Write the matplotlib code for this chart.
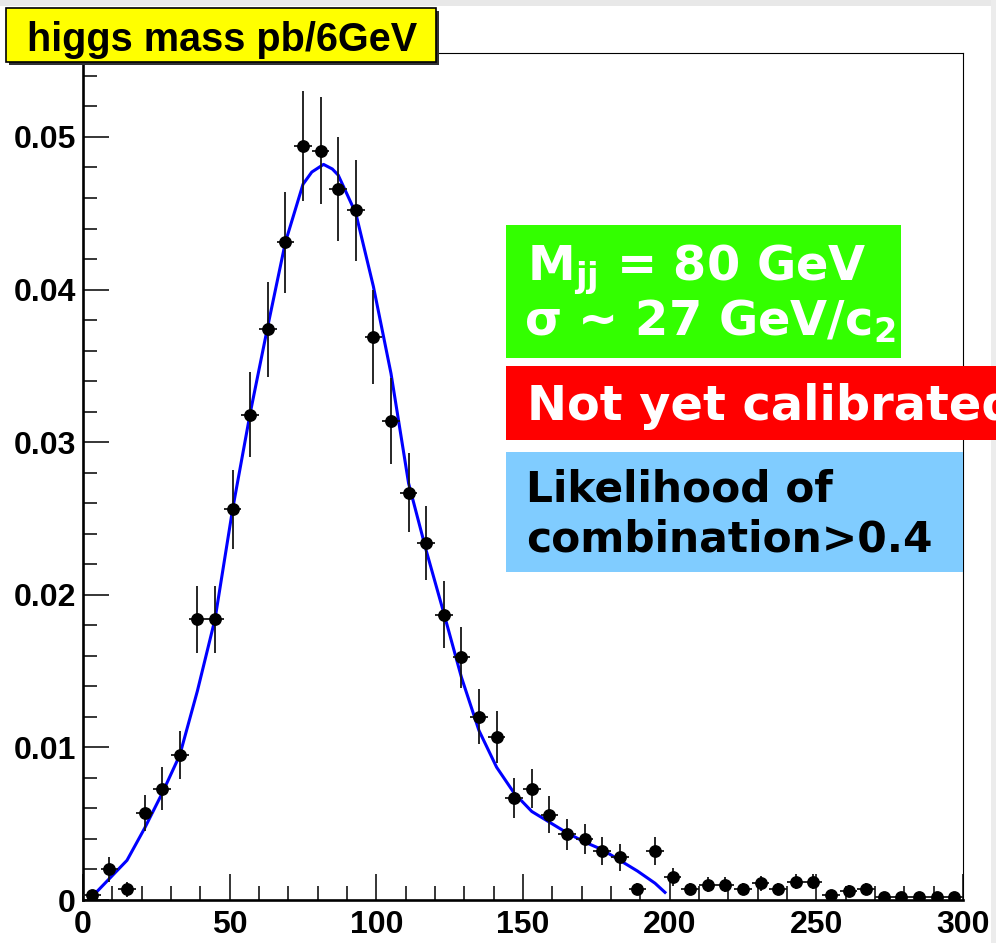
import numpy as np
import matplotlib
matplotlib.use("Agg")
import matplotlib.pyplot as plt
from matplotlib.patches import Rectangle
from matplotlib.ticker import MultipleLocator, FuncFormatter

plt.rcParams['mathtext.fontset'] = 'dejavusans'

# ---------------- data ----------------
bin_width = 6
mass = np.arange(3, 300, bin_width)  # bin centres, 0..300 in 6 GeV bins
xsec = [0.0003, 0.0020, 0.0007, 0.0057, 0.0073, 0.0095, 0.0184, 0.0184, 0.0256, 0.0318,
        0.0374, 0.0431, 0.0494, 0.0491, 0.0466, 0.0452, 0.0369, 0.0314, 0.0267, 0.0234,
        0.0187, 0.0159, 0.0120, 0.0107, 0.0067, 0.0073, 0.0056, 0.0043, 0.0040, 0.0032,
        0.0028, 0.0007, 0.0032, 0.0015, 0.0007, 0.0010, 0.0010, 0.0007, 0.0011, 0.0007,
        0.0012, 0.0012, 0.0003, 0.0006, 0.0007, 0.0002, 0.0002, 0.0002, 0.0002, 0.0002]
xsec_err = [0.0003, 0.0008, 0.0005, 0.0012, 0.0014, 0.0016, 0.0022, 0.0022, 0.0026, 0.0028,
            0.0031, 0.0033, 0.0036, 0.0035, 0.0034, 0.0033, 0.0031, 0.0028, 0.0026, 0.0024,
            0.0022, 0.0020, 0.0018, 0.0017, 0.0013, 0.0013, 0.0012, 0.0010, 0.0010, 0.0009,
            0.0009, 0.0004, 0.0009, 0.0006, 0.0004, 0.0005, 0.0005, 0.0004, 0.0005, 0.0004,
            0.0005, 0.0005, 0.0003, 0.0004, 0.0004, 0.0002, 0.0002, 0.0002, 0.0002, 0.0002]

fit_x = [3, 9, 15, 21, 27, 33, 39, 45, 51, 57, 63, 69, 75, 78, 82, 85, 87, 93, 99, 105,
         111, 117, 123, 129, 135, 141, 147, 153, 159, 165, 171, 177, 183, 189, 195, 198.4]
fit_y = [0.0002, 0.0014, 0.0026, 0.0047, 0.0070, 0.0095, 0.0137, 0.0184, 0.0256, 0.0319,
         0.0376, 0.0431, 0.0469, 0.0477, 0.0482, 0.0479, 0.0475, 0.0450, 0.0402, 0.0345,
         0.0273, 0.0229, 0.0188, 0.0146, 0.0111, 0.0087, 0.0070, 0.0058, 0.0051, 0.0044,
         0.0038, 0.0033, 0.0026, 0.0019, 0.0011, 0.0005]

title = "higgs mass pb/6GeV"

# ---------------- figure ----------------
W, H = 996, 943
fig = plt.figure(figsize=(W / 100, H / 100), dpi=100)
fig.patch.set_facecolor('white')

def fx(px):
    return px / W

def fy(py):
    return 1 - py / H

# light grey window edges
fig.patches.append(Rectangle((0, fy(6)), 1, 6 / H, transform=fig.transFigure,
                             facecolor='#e8e8e8', edgecolor='none', zorder=0))
fig.patches.append(Rectangle((fx(991), 0), 5 / W, 1, transform=fig.transFigure,
                             facecolor='#ececec', edgecolor='none', zorder=0))

ax = fig.add_axes([fx(83), fy(900), (963 - 83) / W, (900 - 53) / H])
ax.set_facecolor('white')

ax.plot(fit_x, fit_y, color='#0000ff', lw=2.2, zorder=2)
ax.errorbar(mass, xsec, yerr=xsec_err, xerr=bin_width / 2, fmt='o', color='black',
            ecolor='#151515', elinewidth=1.3, capsize=0, markersize=8.2, zorder=3)

ax.set_xlim(0, 300)
ax.set_ylim(0, 0.0555)

ax.xaxis.set_major_locator(MultipleLocator(50))
ax.xaxis.set_minor_locator(MultipleLocator(10))
ax.yaxis.set_major_locator(MultipleLocator(0.01))
ax.yaxis.set_minor_locator(MultipleLocator(0.002))
ax.yaxis.set_major_formatter(FuncFormatter(lambda v, p: '0' if abs(v) < 1e-9 else f'{v:.2f}'))
ax.xaxis.set_major_formatter(FuncFormatter(lambda v, p: f'{v:.0f}'))

ax.tick_params(which='both', direction='in', top=False, right=False, colors='black')
ax.tick_params(which='major', length=19, width=1.1)
ax.tick_params(which='minor', length=10, width=1.1)
ax.tick_params(axis='y', which='major', pad=5)
ax.tick_params(axis='x', which='major', pad=7)
for lab in ax.get_xticklabels() + ax.get_yticklabels():
    lab.set_fontfamily('Liberation Sans')
    lab.set_fontweight('bold')
    lab.set_fontsize(23)

ax.spines['left'].set_linewidth(1.9)
ax.spines['bottom'].set_linewidth(1.9)
ax.spines['top'].set_linewidth(0.8)
ax.spines['right'].set_linewidth(0.8)

# ---------------- title box ----------------
fig.patches.append(Rectangle((fx(9), fy(65)), (436 - 6) / W, (62 - 8) / H,
                             transform=fig.transFigure, facecolor='#303030',
                             edgecolor='none', zorder=5))
fig.patches.append(Rectangle((fx(6), fy(62)), (436 - 6) / W, (62 - 8) / H,
                             transform=fig.transFigure, facecolor='#ffff00',
                             edgecolor='black', lw=1.2, zorder=6))
fig.text(fx(27), fy(51), title, fontfamily='Liberation Sans', fontweight='bold',
         fontsize=28.5, color='black', va='baseline', ha='left', zorder=7)

# ---------------- annotation boxes ----------------
fig.patches.append(Rectangle((fx(506), fy(358)), (901 - 506) / W, (358 - 225) / H,
                             transform=fig.transFigure, facecolor='#33ff00',
                             edgecolor='none', zorder=5))
fig.text(fx(527), fy(280), r'M$_{\mathbf{jj}}$ = 80 GeV', fontfamily='DejaVu Sans',
         fontweight='bold', fontsize=34.5, color='white', va='baseline', ha='left', zorder=7)
fig.text(fx(524), fy(335), r'σ ~ 27 GeV/c$_{\mathbf{2}}$', fontfamily='DejaVu Sans',
         fontweight='bold', fontsize=34.5, color='white', va='baseline', ha='left', zorder=7)

fig.patches.append(Rectangle((fx(506), fy(440)), (1000 - 506) / W, (440 - 366) / H,
                             transform=fig.transFigure, facecolor='#ff0000',
                             edgecolor='none', zorder=5))
fig.text(fx(527), fy(420), 'Not yet calibrated', fontfamily='DejaVu Sans',
         fontweight='bold', fontsize=34.5, color='white', va='baseline', ha='left', zorder=7)

fig.patches.append(Rectangle((fx(506), fy(572)), (963 - 506) / W, (572 - 452) / H,
                             transform=fig.transFigure, facecolor='#80ccff',
                             edgecolor='none', zorder=5))
fig.text(fx(526), fy(502), 'Likelihood of', fontfamily='DejaVu Sans',
         fontweight='bold', fontsize=30.5, color='black', va='baseline', ha='left', zorder=7)
fig.text(fx(526), fy(551), 'combination>0.4', fontfamily='DejaVu Sans',
         fontweight='bold', fontsize=30.5, color='black', va='baseline', ha='left', zorder=7)

fig.savefig('out.png', dpi=100)
